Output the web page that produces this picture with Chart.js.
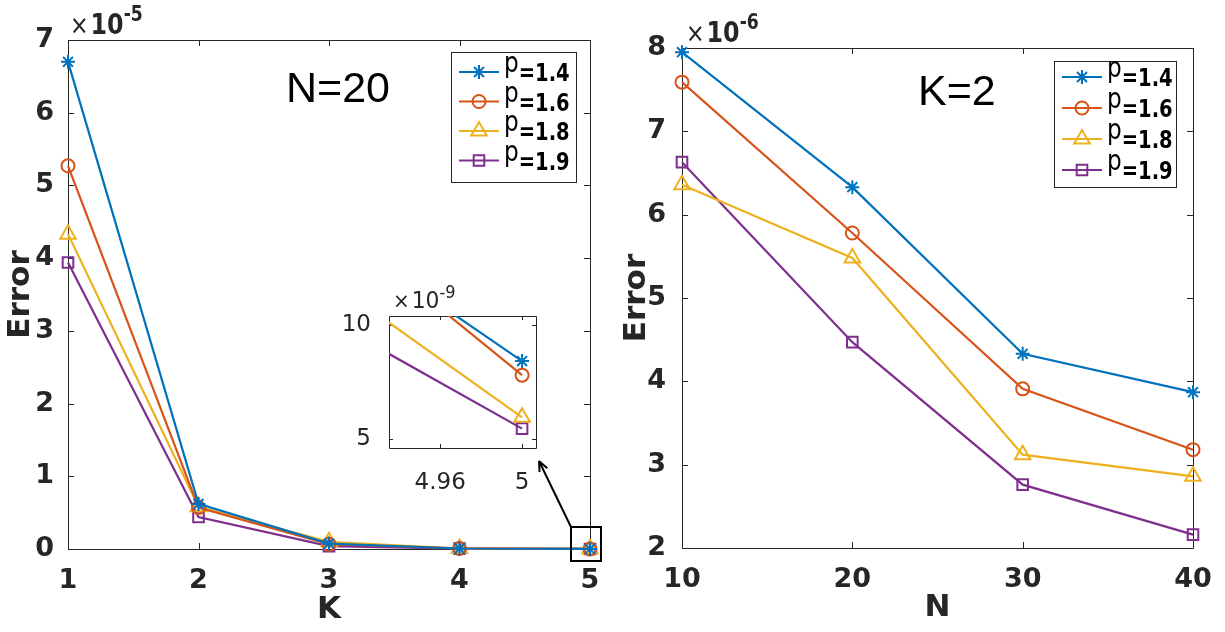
<!DOCTYPE html>
<html>
<head>
<meta charset="utf-8">
<script src="https://cdn.jsdelivr.net/npm/chart.js@4.4.1/dist/chart.umd.min.js"></script>
<style>
  body { margin: 0; background: #fff; width: 1225px; height: 632px; position: relative; overflow: hidden; }
  canvas { position: absolute; }
  #chartK { left: 0; top: 0; }
  #chartN { left: 612px; top: 0; }
  #chartInset { left: 330px; top: 270px; }
</style>
</head>
<body>
<canvas id="chartK" width="612" height="632"></canvas>
<canvas id="chartN" width="613" height="632"></canvas>
<canvas id="chartInset" width="230" height="225"></canvas>
<script>
/* ======================================================
   DADOS
====================================================== */
const pLabels = ["1.4", "1.6", "1.8", "1.9"];

// esquerda: erro (x1e-5) vs K, N=20
const kValues = [1, 2, 3, 4, 5];
const errK_p14 = [6.70, 0.62, 0.075, 0.0070, 0.000842];
const errK_p16 = [5.27, 0.57, 0.065, 0.0081, 0.00078];
const errK_p18 = [4.33, 0.58, 0.10, 0.0070, 0.000595];
const errK_p19 = [3.94, 0.44, 0.040, 0.0056, 0.000545];

// direita: erro (x1e-6) vs N, K=2
const nValues = [10, 20, 30, 40];
const errN_p14 = [7.95, 6.33, 4.33, 3.87];
const errN_p16 = [7.59, 5.78, 3.91, 3.18];
const errN_p18 = [6.36, 5.48, 3.12, 2.86];
const errN_p19 = [6.63, 4.47, 2.76, 2.16];

// ticks
const kTicks = [1, 2, 3, 4, 5];
const errKTicks = [0, 1, 2, 3, 4, 5, 6, 7];
const nTicks = [10, 20, 30, 40];
const errNTicks = [2, 3, 4, 5, 6, 7, 8];
const insetXTicks = [4.96, 5];
const insetYTicks = [5, 10];
const insetXRange = [4.935, 5.0068];
const insetYRange = [4.6, 10.4];
const insetFactor = 1e4; // 1e-5 -> 1e-9

/* ======================================================
   ESTILO
====================================================== */
const CORES = ["#0072BD", "#D95319", "#EDB120", "#7E2F8E"];
const MARCAS = ["star", "circle", "triangle", "rect"];
const RAIOS = [7, 6.5, 9, 7.5];
const EIXO = "#262626";
const FONTE = "DejaVu Sans";

function datasets(xs, series, scale) {
  return series.map((s, i) => ({
    label: "p=" + pLabels[i],
    data: xs.map((x, j) => ({ x, y: s[j] * (scale || 1) })),
    borderColor: CORES[i],
    backgroundColor: "rgba(0,0,0,0)",
    pointBackgroundColor: "rgba(0,0,0,0)",
    pointBorderColor: CORES[i],
    pointStyle: MARCAS[i],
    pointRadius: RAIOS[i],
    pointBorderWidth: 2,
    borderWidth: 2.2,
    tension: 0
  }));
}

// texto comprimido na horizontal (a figura original e esticada)
function texto(ctx, str, x, y, font, sx) {
  ctx.save();
  ctx.font = font;
  ctx.translate(x, y);
  ctx.scale(sx, 1);
  ctx.fillText(str, 0, 0);
  const w = ctx.measureText(str).width * sx;
  ctx.restore();
  return w;
}

/* ======================================================
   PLUGINS
====================================================== */
// caixa dos eixos + ticks para dentro (estilo matlab)
const caixaEixos = {
  id: "caixaEixos",
  beforeDatasetsDraw(chart, args, o) {
    const { ctx, chartArea: a, scales: { x, y } } = chart;
    const len = o.len || 6;
    ctx.save();
    ctx.strokeStyle = EIXO;
    ctx.lineWidth = 1;
    ctx.beginPath();
    ctx.rect(Math.round(a.left) + .5, Math.round(a.top) + .5, Math.round(a.right - a.left), Math.round(a.bottom - a.top));
    x.ticks.forEach(t => {
      const px = Math.round(x.getPixelForValue(t.value)) + .5;
      ctx.moveTo(px, a.bottom); ctx.lineTo(px, a.bottom - len);
      ctx.moveTo(px, a.top); ctx.lineTo(px, a.top + len);
    });
    y.ticks.forEach(t => {
      const py = Math.round(y.getPixelForValue(t.value)) + .5;
      ctx.moveTo(a.left, py); ctx.lineTo(a.left + len, py);
      ctx.moveTo(a.right, py); ctx.lineTo(a.right - len, py);
    });
    ctx.stroke();
    ctx.restore();
  }
};

// textos: expoente, anotacao
const textos = {
  id: "textos",
  afterDraw(chart, args, o) {
    const { ctx } = chart;
    ctx.save();
    ctx.textBaseline = "alphabetic";
    ctx.textAlign = "left";
    if (o.exp) {
      const e = o.exp;
      const b = e.bold ? "bold " : "";
      let x = e.x;
      ctx.fillStyle = EIXO;
      x += texto(ctx, "×", x, e.y, `${e.size - 2}px "${FONTE}"`, e.sx) + 2;
      x += texto(ctx, "10", x, e.y, `${b}${e.size}px "${FONTE}"`, e.sx);
      texto(ctx, e.pot, x, e.y - e.size * 0.45, `${b}${Math.round(e.size * 0.72)}px "${FONTE}"`, e.sx);
    }
    if (o.nota) {
      const a = chart.chartArea;
      ctx.fillStyle = "#000";
      ctx.font = `43px "Liberation Sans"`;
      ctx.fillText(o.nota.text, a.left + o.nota.dx, a.top + o.nota.dy);
    }
    ctx.restore();
  }
};

// legenda desenhada a partir dos datasets
const legendaMatlab = {
  id: "legendaMatlab",
  afterDraw(chart, args, o) {
    if (!o.box) return;
    const { ctx } = chart;
    const b = o.box;
    ctx.save();
    ctx.fillStyle = "#fff";
    ctx.fillRect(b.x, b.y, b.w, b.h);
    ctx.strokeStyle = EIXO;
    ctx.lineWidth = 1;
    ctx.strokeRect(b.x + .5, b.y + .5, b.w, b.h);
    chart.data.datasets.forEach((ds, i) => {
      const cy = b.y + b.first + i * b.step;
      ctx.strokeStyle = ds.borderColor;
      ctx.lineWidth = 2.2;
      ctx.beginPath();
      ctx.moveTo(b.x + 8, cy);
      ctx.lineTo(b.x + 48, cy);
      ctx.stroke();
      ctx.fillStyle = "rgba(0,0,0,0)";
      ctx.lineWidth = 2;
      Chart.helpers.drawPoint(ctx, { pointStyle: ds.pointStyle, radius: ds.pointRadius, rotation: 0, borderWidth: 2 }, b.x + 28, cy);
      ctx.fillStyle = "#000";
      ctx.textBaseline = "alphabetic";
      const w = texto(ctx, "p", b.x + 53, cy, `29px "${FONTE}"`, 0.8);
      texto(ctx, "=" + pLabels[i], b.x + 53 + w, cy + 9, `bold 25px "${FONTE}"`, 0.78);
    });
    ctx.restore();
  }
};

// caixa + seta apontando para o zoom
const seta = {
  id: "seta",
  afterDatasetsDraw(chart, args, o) {
    if (!o.ponto) return;
    const { ctx, scales: { x, y } } = chart;
    const px = x.getPixelForValue(o.ponto[0]);
    const py = y.getPixelForValue(o.ponto[1]);
    ctx.save();
    ctx.strokeStyle = "#000";
    ctx.lineWidth = 2;
    ctx.strokeRect(px - 19, py - 22, 30, 34);
    const x0 = px - 19, y0 = py - 22, x1 = px - 51, y1 = py - 88;
    ctx.beginPath();
    ctx.moveTo(x0, y0);
    ctx.lineTo(x1, y1);
    const ang = Math.atan2(y1 - y0, x1 - x0);
    ctx.moveTo(x1, y1);
    ctx.lineTo(x1 - 11 * Math.cos(ang - 0.4), y1 - 11 * Math.sin(ang - 0.4));
    ctx.moveTo(x1, y1);
    ctx.lineTo(x1 - 11 * Math.cos(ang + 0.4), y1 - 11 * Math.sin(ang + 0.4));
    ctx.stroke();
    ctx.restore();
  }
};

/* ======================================================
   GRAFICOS
====================================================== */
function escala(ticks, min, max, fit, extra) {
  return Object.assign({
    type: "linear",
    min, max,
    grid: { display: false },
    border: { display: false },
    afterBuildTicks: s => { s.ticks = ticks.map(v => ({ value: v })); },
    afterFit: fit,
    ticks: { color: EIXO, font: { family: FONTE, size: 27, weight: "bold" }, callback: v => String(v) }
  }, extra);
}

new Chart(document.getElementById("chartK"), {
  type: "line",
  data: { datasets: datasets(kValues, [errK_p14, errK_p16, errK_p18, errK_p19]).map(d => Object.assign(d, { clip: false })) },
  options: {
    responsive: false, animation: false, events: [],
    layout: { padding: { left: 0, top: 40, right: 22, bottom: 0 } },
    plugins: {
      legend: { display: false }, tooltip: { enabled: false },
      caixaEixos: { len: 6 },
      textos: { exp: { x: 70, y: 34, size: 29, bold: true, pot: "-5", sx: 0.82 }, nota: { text: "N=20", dx: 218, dy: 62 } },
      legendaMatlab: { box: { x: 451, y: 52, w: 125, h: 130, first: 20, step: 29.5 } },
      seta: { ponto: [5, 0] }
    },
    scales: {
      x: escala(kTicks, 1, 5, s => { s.height = 83; }, {
        ticks: { color: EIXO, padding: 8, font: { family: FONTE, size: 27, weight: "bold" }, callback: v => String(v) },
        title: { display: true, text: "K", color: EIXO, font: { family: FONTE, size: 31, weight: "bold" }, padding: { top: 0, bottom: 3 } }
      }),
      y: escala(errKTicks, 0, 7, s => { s.width = 68; }, {
        ticks: { color: EIXO, padding: 6, font: { family: FONTE, size: 27, weight: "bold" }, callback: v => String(v) },
        title: { display: true, text: "Error", color: EIXO, font: { family: FONTE, size: 31, weight: "bold" }, padding: { top: 2, bottom: 0 } }
      })
    }
  },
  plugins: [caixaEixos, textos, legendaMatlab, seta]
});

new Chart(document.getElementById("chartN"), {
  type: "line",
  data: { datasets: datasets(nValues, [errN_p14, errN_p16, errN_p18, errN_p19]).map(d => Object.assign(d, { clip: false })) },
  options: {
    responsive: false, animation: false, events: [],
    layout: { padding: { left: 0, top: 48, right: 32, bottom: 0 } },
    plugins: {
      legend: { display: false }, tooltip: { enabled: false },
      caixaEixos: { len: 6 },
      textos: { exp: { x: 74, y: 42, size: 29, bold: true, pot: "-6", sx: 0.82 }, nota: { text: "K=2", dx: 236, dy: 57 } },
      legendaMatlab: { box: { x: 442, y: 61, w: 122, h: 126, first: 16, step: 31 } }
    },
    scales: {
      x: escala(nTicks, 10, 40, s => { s.height = 84; }, {
        ticks: { color: EIXO, padding: 8, font: { family: FONTE, size: 27, weight: "bold" }, callback: v => String(v) },
        title: { display: true, text: "N", color: EIXO, font: { family: FONTE, size: 31, weight: "bold" }, padding: { top: 0, bottom: 5 } }
      }),
      y: escala(errNTicks, 2, 8, s => { s.width = 70; }, {
        ticks: { color: EIXO, padding: 8, font: { family: FONTE, size: 27, weight: "bold" }, callback: v => String(v) },
        title: { display: true, text: "Error", color: EIXO, font: { family: FONTE, size: 31, weight: "bold" }, padding: { top: 6, bottom: 0 } }
      })
    }
  },
  plugins: [caixaEixos, textos, legendaMatlab]
});

/* ======================================================
   ZOOM (INSET)
====================================================== */
const fundoBranco = {
  id: "fundoBranco",
  beforeDraw(chart) {
    const { ctx, chartArea: a } = chart;
    ctx.save();
    ctx.fillStyle = "#fff";
    ctx.fillRect(a.left, a.top, a.right - a.left, a.bottom - a.top);
    ctx.restore();
  }
};

new Chart(document.getElementById("chartInset"), {
  type: "line",
  data: { datasets: datasets(kValues, [errK_p14, errK_p16, errK_p18, errK_p19], insetFactor) },
  options: {
    responsive: false, animation: false, events: [],
    layout: { padding: { left: 0, top: 46, right: 24, bottom: 0 } },
    plugins: {
      legend: { display: false }, tooltip: { enabled: false },
      caixaEixos: { len: 4 },
      textos: { exp: { x: 63, y: 38, size: 23, bold: false, pot: "-9", sx: 0.95 } }
    },
    scales: {
      x: escala(insetXTicks, insetXRange[0], insetXRange[1], s => { s.height = 47; }, {
        ticks: { color: EIXO, padding: 13, font: { family: FONTE, size: 23 }, callback: v => String(v) }
      }),
      y: escala(insetYTicks, insetYRange[0], insetYRange[1], s => { s.width = 59; }, {
        ticks: { color: EIXO, padding: 10, font: { family: FONTE, size: 23 }, callback: v => String(v) }
      })
    }
  },
  plugins: [fundoBranco, caixaEixos, textos]
});
</script>
</body>
</html>
